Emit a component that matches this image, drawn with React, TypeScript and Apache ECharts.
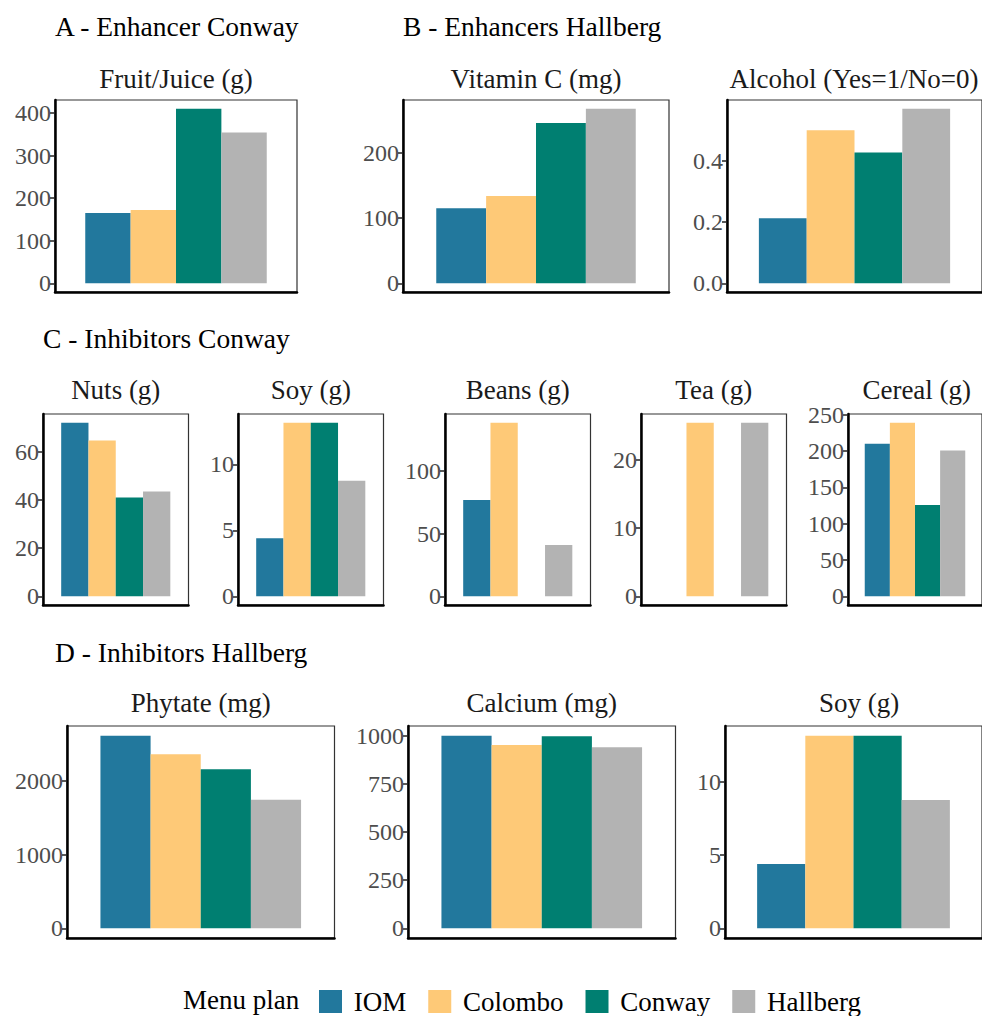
import React, { useEffect, useRef } from "react";
import * as echarts from "echarts";

const plans = ["IOM", "Colombo", "Conway", "Hallberg"];
const planColors = ["#22789D", "#FEC977", "#007F71", "#B3B3B3"];

const fruitJuice = [165, 172, 410, 354];
const vitaminC = [115, 134, 246, 268];
const alcohol = [0.212, 0.5, 0.427, 0.57];
const nuts = [72.2, 64.8, 41.1, 43.6];
const soy = [4.4, 13.15, 13.15, 8.75];
const beans = [76.9, 138.7, null, 40.9];
const tea = [null, 25.5, null, 25.5];
const cereal = [210, 239, 125.7, 200.6];
const phytate = [2612, 2360, 2158, 1743];
const calcium = [1000, 952, 997, 940];

const fruitTicks = [0, 100, 200, 300, 400];
const vitaminCTicks = [0, 100, 200];
const alcoholTicks = [0, 0.2, 0.4];
const nutsTicks = [0, 20, 40, 60];
const soyTicks = [0, 5, 10];
const beansTicks = [0, 50, 100];
const teaTicks = [0, 10, 20];
const cerealTicks = [0, 50, 100, 150, 200, 250];
const phytateTicks = [0, 1000, 2000];
const calciumTicks = [0, 250, 500, 750, 1000];

const sectionTitles = [
  "A - Enhancer Conway",
  "B - Enhancers Hallberg",
  "C - Inhibitors Conway",
  "D - Inhibitors Hallberg",
];

const FONT = "Liberation Serif, Times New Roman, serif";

type Panel = {
  title: string;
  data: (number | null)[];
  ticks: number[];
  decimals: number;
  box: [number, number, number, number]; // left, top, width, height
};

const panels: Panel[] = [
  { title: "Fruit/Juice (g)", data: fruitJuice, ticks: fruitTicks, decimals: 0, box: [55, 100, 242, 192] },
  { title: "Vitamin C (mg)", data: vitaminC, ticks: vitaminCTicks, decimals: 0, box: [403, 100, 266, 192] },
  { title: "Alcohol (Yes=1/No=0)", data: alcohol, ticks: alcoholTicks, decimals: 1, box: [727, 100, 266, 192] },
  { title: "Nuts (g)", data: nuts, ticks: nutsTicks, decimals: 0, box: [43, 414, 145.5, 191] },
  { title: "Soy (g)", data: soy, ticks: soyTicks, decimals: 0, box: [238, 414, 145.5, 191] },
  { title: "Beans (g)", data: beans, ticks: beansTicks, decimals: 0, box: [445, 414, 145.5, 191] },
  { title: "Tea (g)", data: tea, ticks: teaTicks, decimals: 0, box: [641, 414, 145.5, 191] },
  { title: "Cereal (g)", data: cereal, ticks: cerealTicks, decimals: 0, box: [848, 414, 145.5, 191] },
  { title: "Phytate (mg)", data: phytate, ticks: phytateTicks, decimals: 0, box: [67, 726, 267.5, 212] },
  { title: "Calcium (mg)", data: calcium, ticks: calciumTicks, decimals: 0, box: [408, 726, 267.5, 212] },
  { title: "Soy (g)", data: soy, ticks: soyTicks, decimals: 0, box: [725, 726, 268, 212] },
];

const panelTitleY = [79, 79, 79, 390, 390, 390, 390, 390, 703, 703, 703];
// horizontal nudge for titles that would otherwise run past the page edge
const panelTitleShift = [0, 0, -6, 0, 0, 0, 0, -4, 0, 0, 0];
const sectionPos: [number, number][] = [
  [55, 26],
  [403, 26],
  [43, 338],
  [55, 652],
];

export default function App() {
  const ref = useRef<HTMLDivElement>(null);

  useEffect(() => {
    document.body.style.margin = "0";
    if (!ref.current) return;
    const chart = echarts.init(ref.current, undefined, { renderer: "svg" });

    const grids: any[] = [];
    const xAxes: any[] = [];
    const yAxes: any[] = [];
    const series: any[] = [];
    const graphics: any[] = [];

    panels.forEach((p, i) => {
      const [left, top, width, height] = p.box;
      const vals = p.data.filter((v) => v !== null) as number[];
      const maxV = Math.max(...vals);
      grids.push({
        left,
        top,
        width,
        height,
        show: true,
        backgroundColor: "#ffffff",
        borderColor: "#333333",
        borderWidth: 1.2,
      });
      xAxes.push({
        type: "category",
        gridIndex: i,
        data: [""],
        axisLine: { show: true, onZero: false, lineStyle: { color: "#000000", width: 2.5 } },
        axisTick: { show: false },
        axisLabel: { show: false },
        splitLine: { show: false },
      });
      yAxes.push({
        type: "value",
        gridIndex: i,
        min: -0.05 * maxV,
        max: 1.05 * maxV,
        axisLine: { show: true, lineStyle: { color: "#000000", width: 2.5 } },
        axisTick: {
          show: true,
          customValues: p.ticks,
          length: 5,
          lineStyle: { color: "#222222", width: 1.5 },
        },
        axisLabel: {
          show: true,
          customValues: p.ticks,
          formatter: (v: number) => v.toFixed(p.decimals),
          color: "#4D4D4D",
          fontFamily: FONT,
          fontSize: 24,
          margin: 4,
        },
        splitLine: { show: false },
      });
      plans.forEach((name, k) => {
        series.push({
          type: "bar",
          name,
          xAxisIndex: i,
          yAxisIndex: i,
          data: [p.data[k]],
          barGap: "0%",
          barCategoryGap: "25%",
          itemStyle: { color: planColors[k] },
        });
      });
      graphics.push({
        type: "text",
        x: left + width / 2 + panelTitleShift[i],
        y: panelTitleY[i],
        style: {
          text: p.title,
          fill: "#1a1a1a",
          fontFamily: FONT,
          fontSize: 27,
          textAlign: "center",
          textVerticalAlign: "middle",
        },
      });
    });

    sectionTitles.forEach((t, j) => {
      graphics.push({
        type: "text",
        x: sectionPos[j][0],
        y: sectionPos[j][1],
        style: {
          text: t,
          fill: "#000000",
          fontFamily: FONT,
          fontSize: 27.5,
          textAlign: "left",
          textVerticalAlign: "middle",
        },
      });
    });

    graphics.push({
      type: "text",
      x: 183,
      y: 1000,
      style: {
        text: "Menu plan",
        fill: "#000000",
        fontFamily: FONT,
        fontSize: 27,
        textAlign: "left",
        textVerticalAlign: "middle",
      },
    });

    chart.setOption({
      animation: false,
      backgroundColor: "#ffffff",
      grid: grids,
      xAxis: xAxes,
      yAxis: yAxes,
      series,
      legend: {
        data: plans,
        left: 319,
        top: 988,
        padding: 0,
        icon: "rect",
        itemWidth: 23,
        itemHeight: 23,
        itemGap: 22,
        selectedMode: false,
        formatter: (n: string) => " " + n,
        textStyle: {
          fontFamily: FONT,
          fontSize: 27,
          color: "#000000",
        },
      },
      graphic: graphics,
    });

    return () => chart.dispose();
  }, []);

  return <div ref={ref} style={{ width: 982, height: 1016 }} />;
}
